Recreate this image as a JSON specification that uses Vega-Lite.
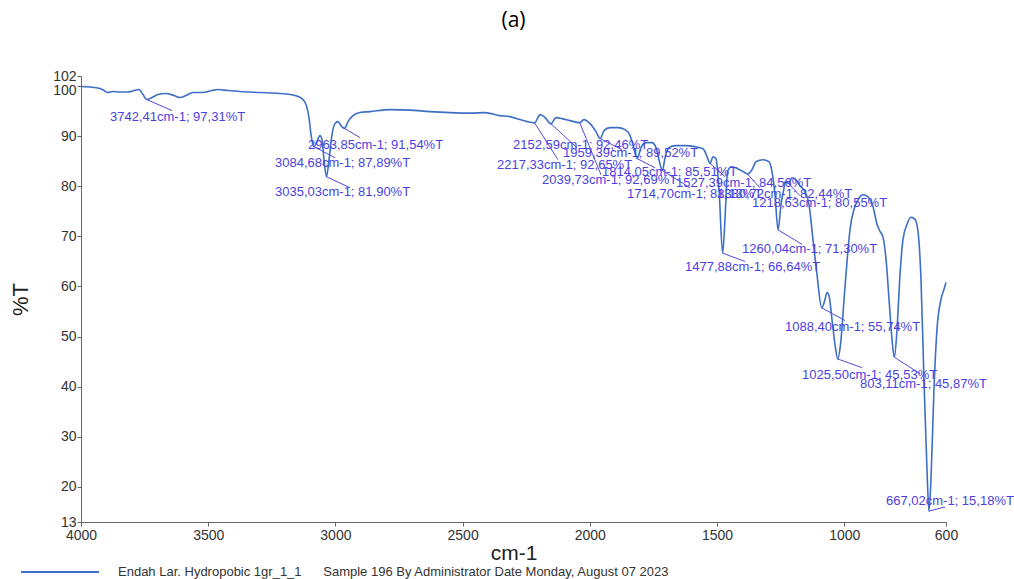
{
  "$schema": "https://vega.github.io/schema/vega-lite/v6.json",
  "autosize": {"type": "none"},
  "width": 865,
  "height": 446,
  "padding": {"left": 81, "top": 76, "right": 68, "bottom": 57},
  "background": "white",
  "title": {"text": "(a)", "font": "Open Sans", "fontSize": 21, "fontWeight": "normal", "color": "#000", "anchor": "middle", "frame": "group", "offset": 38},
  "config": {"view": {"stroke": null}},
  "datasets": {
    "spectrum": [
      {"wn": 4000, "t": 99.9}, {"wn": 3964.6, "t": 99.8}, {"wn": 3925.3, "t": 99.5}, {"wn": 3909.6, "t": 99.1},
      {"wn": 3893.9, "t": 98.7}, {"wn": 3874.2, "t": 98.9}, {"wn": 3846.7, "t": 98.8}, {"wn": 3815.3, "t": 98.8},
      {"wn": 3791.7, "t": 99.1}, {"wn": 3772.0, "t": 99.3}, {"wn": 3756.3, "t": 98.3}, {"wn": 3742.4, "t": 97.31},
      {"wn": 3720.9, "t": 97.7}, {"wn": 3697.3, "t": 98.3}, {"wn": 3665.9, "t": 98.5}, {"wn": 3634.5, "t": 98.1},
      {"wn": 3610.9, "t": 97.7}, {"wn": 3587.3, "t": 98.1}, {"wn": 3559.8, "t": 98.7}, {"wn": 3524.4, "t": 98.7},
      {"wn": 3485.1, "t": 99.1}, {"wn": 3461.5, "t": 99.3}, {"wn": 3422.2, "t": 99.1}, {"wn": 3375.0, "t": 98.9},
      {"wn": 3296.4, "t": 98.7}, {"wn": 3217.8, "t": 98.5}, {"wn": 3158.8, "t": 98.1}, {"wn": 3131.3, "t": 97.5},
      {"wn": 3115.6, "t": 96.3}, {"wn": 3103.8, "t": 93.7}, {"wn": 3095.9, "t": 90.3}, {"wn": 3084.7, "t": 87.89},
      {"wn": 3072.4, "t": 88.9}, {"wn": 3060.6, "t": 90.1}, {"wn": 3052.8, "t": 89.3}, {"wn": 3044.9, "t": 85.3},
      {"wn": 3035.0, "t": 81.9}, {"wn": 3025.2, "t": 85.3}, {"wn": 3013.4, "t": 90.3}, {"wn": 3001.6, "t": 92.5},
      {"wn": 2989.8, "t": 92.9}, {"wn": 2978.0, "t": 92.1}, {"wn": 2963.9, "t": 91.54}, {"wn": 2950.5, "t": 92.9},
      {"wn": 2930.9, "t": 94.1}, {"wn": 2903.4, "t": 94.7}, {"wn": 2864.0, "t": 94.9}, {"wn": 2785.4, "t": 95.3},
      {"wn": 2706.8, "t": 95.2}, {"wn": 2628.2, "t": 94.9}, {"wn": 2549.6, "t": 94.7}, {"wn": 2471.0, "t": 94.6},
      {"wn": 2412.0, "t": 94.7}, {"wn": 2353.1, "t": 94.1}, {"wn": 2313.8, "t": 93.9}, {"wn": 2274.4, "t": 93.3},
      {"wn": 2246.9, "t": 92.9}, {"wn": 2217.3, "t": 92.65}, {"wn": 2195.6, "t": 94.3}, {"wn": 2175.9, "t": 93.7},
      {"wn": 2152.6, "t": 92.46}, {"wn": 2132.9, "t": 93.7}, {"wn": 2109.3, "t": 93.5}, {"wn": 2077.9, "t": 93.1},
      {"wn": 2039.7, "t": 92.69}, {"wn": 2022.9, "t": 93.3}, {"wn": 1999.3, "t": 92.5}, {"wn": 1975.7, "t": 90.9},
      {"wn": 1959.4, "t": 89.52}, {"wn": 1944.2, "t": 91.1}, {"wn": 1920.6, "t": 91.7}, {"wn": 1889.2, "t": 91.7},
      {"wn": 1861.7, "t": 91.3}, {"wn": 1842.0, "t": 90.1}, {"wn": 1830.2, "t": 88.3}, {"wn": 1814.05, "t": 85.51},
      {"wn": 1798.9, "t": 87.7}, {"wn": 1779.2, "t": 88.7}, {"wn": 1755.6, "t": 88.7}, {"wn": 1739.9, "t": 87.7},
      {"wn": 1728.1, "t": 85.3}, {"wn": 1714.7, "t": 83.13}, {"wn": 1704.3, "t": 85.7}, {"wn": 1688.6, "t": 87.7},
      {"wn": 1665.0, "t": 88.1}, {"wn": 1625.7, "t": 88.1}, {"wn": 1586.4, "t": 87.9}, {"wn": 1554.9, "t": 87.5},
      {"wn": 1539.2, "t": 85.9}, {"wn": 1527.4, "t": 84.56}, {"wn": 1515.7, "t": 85.9}, {"wn": 1503.9, "t": 85.5},
      {"wn": 1492.1, "t": 79.3}, {"wn": 1477.9, "t": 66.64}, {"wn": 1466.8, "t": 75.4}, {"wn": 1458.9, "t": 82.9},
      {"wn": 1443.2, "t": 83.9}, {"wn": 1419.6, "t": 83.5}, {"wn": 1396.0, "t": 82.9}, {"wn": 1380.7, "t": 82.44},
      {"wn": 1362.6, "t": 83.3}, {"wn": 1346.9, "t": 84.9}, {"wn": 1319.4, "t": 85.3}, {"wn": 1295.8, "t": 84.9},
      {"wn": 1284.0, "t": 82.9}, {"wn": 1272.2, "t": 78.3}, {"wn": 1260.0, "t": 71.3}, {"wn": 1248.5, "t": 76.4},
      {"wn": 1236.7, "t": 79.7}, {"wn": 1232.8, "t": 80.9}, {"wn": 1218.6, "t": 80.55}, {"wn": 1205.4, "t": 81.7},
      {"wn": 1189.7, "t": 81.3}, {"wn": 1174.0, "t": 80.1}, {"wn": 1154.3, "t": 78.9}, {"wn": 1138.6, "t": 76.4},
      {"wn": 1122.9, "t": 69.4}, {"wn": 1107.2, "t": 62.4}, {"wn": 1088.4, "t": 55.74}, {"wn": 1075.6, "t": 57.4},
      {"wn": 1067.8, "t": 58.8}, {"wn": 1059.9, "t": 58.2}, {"wn": 1048.1, "t": 53.4}, {"wn": 1036.3, "t": 48.4},
      {"wn": 1025.5, "t": 45.53}, {"wn": 1012.7, "t": 49.4}, {"wn": 1000.8, "t": 57.4}, {"wn": 989.0, "t": 65.0},
      {"wn": 977.2, "t": 71.4}, {"wn": 961.5, "t": 75.4}, {"wn": 945.8, "t": 77.3}, {"wn": 926.1, "t": 78.3},
      {"wn": 906.5, "t": 77.9}, {"wn": 886.8, "t": 75.9}, {"wn": 871.1, "t": 72.4}, {"wn": 859.3, "t": 71.0},
      {"wn": 847.5, "t": 69.8}, {"wn": 835.7, "t": 65.4}, {"wn": 823.9, "t": 57.4}, {"wn": 812.1, "t": 49.4},
      {"wn": 803.1, "t": 45.87}, {"wn": 792.6, "t": 51.4}, {"wn": 780.8, "t": 62.4}, {"wn": 769.0, "t": 69.4},
      {"wn": 753.3, "t": 72.4}, {"wn": 737.6, "t": 73.8}, {"wn": 721.9, "t": 73.4}, {"wn": 710.1, "t": 71.0},
      {"wn": 698.3, "t": 61.4}, {"wn": 686.6, "t": 41.4}, {"wn": 674.8, "t": 23.5}, {"wn": 667.0, "t": 15.18},
      {"wn": 659.1, "t": 21.5}, {"wn": 647.3, "t": 39.4}, {"wn": 635.5, "t": 51.4}, {"wn": 619.8, "t": 57.4},
      {"wn": 608.1, "t": 59.4}, {"wn": 600, "t": 60.8}
    ],
    "peaks": [
      {"wn": 3742.41, "t": 97.31, "lx": 3642.3, "ly": 95.1, "tx": 3886.0, "ty": 93.9, "label": "3742,41cm-1; 97,31%T"},
      {"wn": 3084.68, "t": 87.89, "lx": 3001.6, "ly": 85.7, "tx": 3237.5, "ty": 84.7, "label": "3084,68cm-1; 87,89%T"},
      {"wn": 3035.03, "t": 81.90, "lx": 2942.7, "ly": 79.7, "tx": 3237.5, "ty": 78.9, "label": "3035,03cm-1; 81,90%T"},
      {"wn": 2963.85, "t": 91.54, "lx": 2903.4, "ly": 89.7, "tx": 3107.8, "ty": 88.3, "label": "2963,85cm-1; 91,54%T"},
      {"wn": 2217.33, "t": 92.65, "lx": 2125.1, "ly": 85.3, "tx": 2364.9, "ty": 84.3, "label": "2217,33cm-1; 92,65%T"},
      {"wn": 2152.59, "t": 92.46, "lx": 2050.4, "ly": 87.7, "tx": 2302.0, "ty": 88.3, "label": "2152,59cm-1; 92,46%T"},
      {"wn": 2039.73, "t": 92.69, "lx": 1956.1, "ly": 82.3, "tx": 2188.0, "ty": 81.3, "label": "2039,73cm-1; 92,69%T"},
      {"wn": 1959.39, "t": 89.52, "lx": 1873.5, "ly": 87.3, "tx": 2105.5, "ty": 86.7, "label": "1959,39cm-1; 89,52%T"},
      {"wn": 1814.05, "t": 85.51, "lx": 1743.8, "ly": 83.7, "tx": 1952.2, "ty": 82.9, "label": "1814,05cm-1; 85,51%T"},
      {"wn": 1714.70, "t": 83.13, "lx": 1606.2, "ly": 79.7, "tx": 1853.9, "ty": 78.5, "label": "1714,70cm-1; 83,13%T"},
      {"wn": 1527.39, "t": 84.56, "lx": 1468.7, "ly": 81.9, "tx": 1661.3, "ty": 80.7, "label": "1527,39cm-1; 84,56%T"},
      {"wn": 1477.88, "t": 66.64, "lx": 1390.1, "ly": 65.0, "tx": 1625.9, "ty": 63.8, "label": "1477,88cm-1; 66,64%T"},
      {"wn": 1380.72, "t": 82.44, "lx": 1331.2, "ly": 79.7, "tx": 1500.1, "ty": 78.5, "label": "1380,72cm-1; 82,44%T"},
      {"wn": 1260.04, "t": 71.30, "lx": 1166.0, "ly": 68.4, "tx": 1401.9, "ty": 67.4, "label": "1260,04cm-1; 71,30%T"},
      {"wn": 1218.63, "t": 80.55, "lx": 1174.0, "ly": 78.1, "tx": 1362.6, "ty": 76.7, "label": "1218,63cm-1; 80,55%T"},
      {"wn": 1088.40, "t": 55.74, "lx": 997.0, "ly": 53.2, "tx": 1232.9, "ty": 52.0, "label": "1088,40cm-1; 55,74%T"},
      {"wn": 1025.50, "t": 45.53, "lx": 930.2, "ly": 43.8, "tx": 1166.0, "ty": 42.4, "label": "1025,50cm-1; 45,53%T"},
      {"wn": 803.11, "t": 45.87, "lx": 702.2, "ly": 42.6, "tx": 938.1, "ty": 40.6, "label": "803,11cm-1; 45,87%T"},
      {"wn": 667.02, "t": 15.18, "lx": 604.0, "ly": 16.0, "tx": 835.9, "ty": 17.1, "label": "667,02cm-1; 15,18%T"}
    ]
  },
  "layer": [
    {
      "data": {"name": "spectrum"},
      "mark": {"type": "line", "strokeWidth": 1.6, "interpolate": "monotone"},
      "encoding": {
        "x": {"field": "wn", "type": "quantitative",
          "scale": {"domain": [600, 4000], "reverse": true, "nice": false, "zero": false},
          "axis": {"values": [4000, 3500, 3000, 2500, 2000, 1500, 1000, 600], "format": "d", "grid": false, "title": "cm-1",
            "titleFont": "Liberation Sans", "titleFontSize": 21, "titleFontWeight": "normal", "titleColor": "#222", "titlePadding": 0,
            "labelFont": "Liberation Sans", "labelFontSize": 14, "labelColor": "#333", "labelPadding": 2,
            "tickSize": 4, "tickColor": "#666", "domainColor": "#666", "labelFlush": false, "labelOverlap": false}},
        "y": {"field": "t", "type": "quantitative",
          "scale": {"domain": [13, 102], "nice": false, "zero": false},
          "axis": {"values": [13, 20, 30, 40, 50, 60, 70, 80, 90, 100, 102], "grid": false, "title": "%T",
            "titleFont": "Liberation Sans", "titleFontSize": 22, "titleFontWeight": "normal", "titleColor": "#222", "titlePadding": 20,
            "labelFont": "Liberation Sans", "labelFontSize": 14, "labelColor": "#333", "labelPadding": 1,
            "labelOffset": {"condition": {"test": "datum.value === 100", "value": 4}, "value": 0},
            "tickSize": 4, "tickColor": "#666", "domainColor": "#666", "labelFlush": false, "labelOverlap": false}},
        "color": {"datum": "Endah Lar. Hydropobic 1gr_1_1\u00a0\u00a0\u00a0\u00a0\u00a0\u00a0Sample 196 By Administrator Date Monday, August 07 2023",
          "type": "nominal",
          "scale": {"range": ["#3d6fc6"]},
          "legend": {"title": null, "orient": "none", "legendX": -61, "legendY": 456, "symbolType": "stroke", "symbolSize": 6084,
            "symbolStrokeWidth": 2, "labelFont": "Liberation Sans", "labelFontSize": 13, "labelColor": "#333", "labelOffset": 18, "labelLimit": 800, "padding": 0}}
      }
    },
    {
      "data": {"name": "peaks"},
      "mark": {"type": "rule", "color": "#5548d8", "strokeWidth": 1},
      "encoding": {
        "x": {"field": "wn", "type": "quantitative"},
        "y": {"field": "t", "type": "quantitative"},
        "x2": {"field": "lx"},
        "y2": {"field": "ly"}
      }
    },
    {
      "data": {"name": "peaks"},
      "mark": {"type": "text", "align": "left", "baseline": "middle", "font": "Liberation Sans", "fontSize": 13, "color": "#4b3fe0"},
      "encoding": {
        "x": {"field": "tx", "type": "quantitative"},
        "y": {"field": "ty", "type": "quantitative"},
        "text": {"field": "label"}
      }
    }
  ]
}
